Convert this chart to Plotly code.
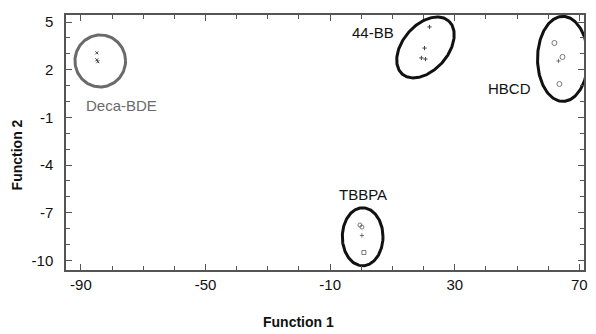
import numpy as np
import plotly.graph_objects as go

# ---- data ----
deca_x = [-84.9, -84.9, -84.6]
deca_y = [3.06, 2.62, 2.50]
bb_x = [21.9, 20.3, 19.3, 20.6]
bb_y = [4.69, 3.36, 2.74, 2.67]
hbcd_x = [62.0, 64.6, 63.3, 63.6]
hbcd_y = [3.68, 2.80, 2.55, 1.10]
tbbpa_x = [-0.44, 0.2, 0.2, 0.84]
tbbpa_y = [-7.77, -7.90, -8.43, -9.50]

x_ticks = [-90, -50, -10, 30, 70]
x_ticktext = ["-90", "-50", "-10", "30", "70"]
y_ticks = [5, 2, -1, -4, -7, -10]
y_ticktext = ["5", "2", "-1", "-4", "-7", "-10"]

# group ellipses: center x, center y, semi-axis a (px), semi-axis b (px), angle (deg)
groups = ["Deca-BDE", "44-BB", "HBCD", "TBBPA"]
ell_cx = [-83.8, 20.6, 64.7, 0.44]
ell_cy = [2.55, 3.40, 2.68, -8.51]
ell_a = [25.5, 35.4, 25.5, 20.5]
ell_b = [26.0, 22.7, 42.5, 29.0]
ell_ang = [0, 48.5, 0, 0]
ell_col = ["#6a6a6a", "#111111", "#111111", "#111111"]
lab_x = [-77.0, 3.7, 47.7, 0.5]
lab_y = [-0.28, 4.37, 0.79, -5.88]

xrange = [-94.8, 71.5]
yrange = [-10.6, 5.44]

W, H = 596, 334
ml, mr, mt, mb = 66, 8, 15, 64
pw, ph = W - ml - mr, H - mt - mb
pxx = pw / (xrange[1] - xrange[0])
pxy = ph / (yrange[1] - yrange[0])

fig = go.Figure()

t = np.linspace(0, 2 * np.pi, 200)
for cx, cy, a, b, ang, col in zip(ell_cx, ell_cy, ell_a, ell_b, ell_ang, ell_col):
    th = np.deg2rad(ang)
    u = a * np.cos(t)
    v = b * np.sin(t)
    dx = u * np.cos(th) - v * np.sin(th)
    dy = u * np.sin(th) + v * np.cos(th)
    fig.add_trace(go.Scatter(x=cx + dx / pxx, y=cy + dy / pxy, mode="lines",
                             line=dict(color=col, width=3), hoverinfo="skip",
                             showlegend=False))

mcol = "#444444"
fig.add_trace(go.Scatter(x=deca_x, y=deca_y, mode="markers", showlegend=False,
                         marker=dict(symbol="x-thin-open", size=3, color=mcol,
                                     line=dict(width=1, color=mcol))))
fig.add_trace(go.Scatter(x=bb_x, y=bb_y, mode="markers", showlegend=False,
                         marker=dict(symbol="cross-thin-open", size=3, color=mcol,
                                     line=dict(width=1, color=mcol))))
fig.add_trace(go.Scatter(x=hbcd_x, y=hbcd_y, mode="markers", showlegend=False,
                         marker=dict(symbol=["circle-open", "circle-open", "cross-thin-open", "circle-open"],
                                     size=[5, 5, 3, 5], color=mcol, line=dict(width=1, color=mcol))))
fig.add_trace(go.Scatter(x=tbbpa_x, y=tbbpa_y, mode="markers", showlegend=False,
                         marker=dict(symbol=["circle-open", "circle-open", "cross-thin-open", "square-open"],
                                     size=[4, 4, 3, 4], color=mcol, line=dict(width=1, color=mcol))))

for g, x, y, col in zip(groups, lab_x, lab_y, ell_col):
    fig.add_annotation(x=x, y=y, text=g, showarrow=False,
                       font=dict(size=15, color=col, family="Liberation Sans, Arial"))

axis_common = dict(showline=True, linecolor="#555555", linewidth=1.5, mirror="ticks",
                   ticks="inside", ticklen=6, tickcolor="#555555", tickwidth=1,
                   showgrid=False, zeroline=False,
                   tickfont=dict(size=15, color="#111111", family="Liberation Sans, Arial"))

fig.update_xaxes(range=xrange, tickvals=x_ticks, ticktext=x_ticktext,
                 minor=dict(dtick=10, tick0=-90, ticks="inside", ticklen=4, tickcolor="#555555"),
                 **axis_common)
fig.update_yaxes(range=yrange, tickvals=y_ticks, ticktext=y_ticktext,
                 minor=dict(dtick=1, tick0=-10, ticks="inside", ticklen=4, tickcolor="#555555"),
                 ticklabelstandoff=8, **axis_common)

fig.add_annotation(text="<b>Function 1</b>", x=(300 - ml) / pw, y=(H - mb - 322) / ph,
                   xref="paper", yref="paper", xanchor="center", yanchor="middle",
                   showarrow=False,
                   font=dict(size=14, color="#111111", family="Liberation Sans, Arial"))
fig.add_annotation(text="<b>Function 2</b>", x=(17 - ml) / pw, y=1 - (155 - mt) / ph,
                   xref="paper", yref="paper", showarrow=False, textangle=-90,
                   xanchor="center", yanchor="middle",
                   font=dict(size=14, color="#111111", family="Liberation Sans, Arial"))

fig.update_layout(
    width=W, height=H,
    margin=dict(l=ml, r=mr, t=mt, b=mb),
    paper_bgcolor="white", plot_bgcolor="white",
    showlegend=False,
)

fig.write_html("out.html")
